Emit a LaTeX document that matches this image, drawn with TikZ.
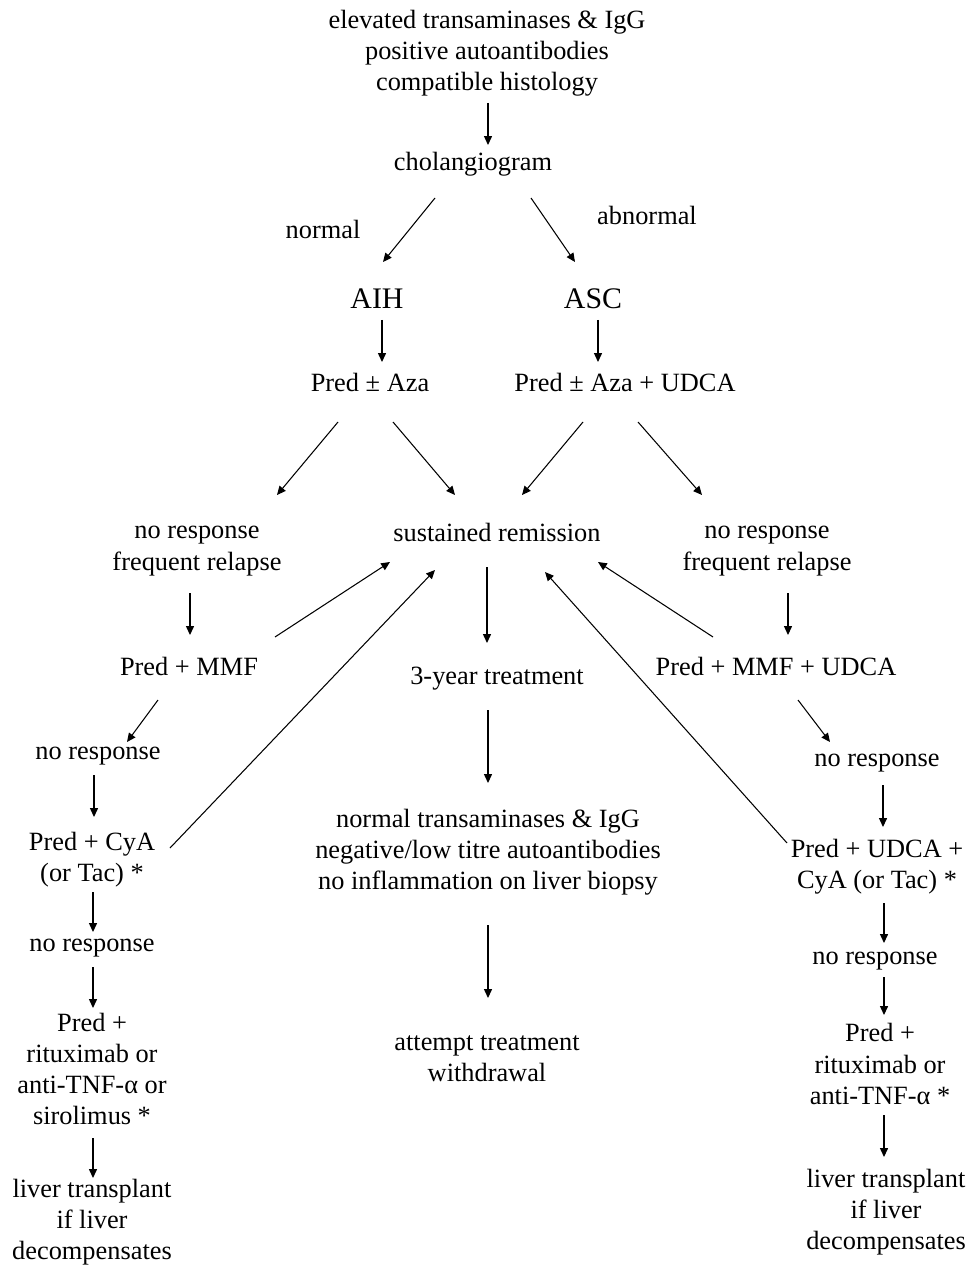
\documentclass[tikz,border=0pt]{standalone}
\usepackage{fontspec}
\setmainfont{Liberation Serif}
\usepackage{tikz}
\usetikzlibrary{arrows.meta, positioning, calc}

\tikzset{
  lbl/.style={font=\fontsize{15}{17.8}\selectfont, align=center, inner sep=1pt},
  dxlbl/.style={font=\fontsize{17}{20}\selectfont, align=center, inner sep=1pt},
  arr/.style={-{Triangle[length=5pt,width=4.5pt]}, line width=0.6pt}
}

\begin{document}
\begin{tikzpicture}[x=0.02cm, y=-0.02cm]
      \useasboundingbox (0,0) rectangle (969,1266);
      % Diagnosis
      \node[lbl] (top) at (487,53) {elevated transaminases \& IgG\\positive autoantibodies\\compatible histology};
      \node[lbl] (chol) at (473,164) {cholangiogram};
      \node[lbl] (normal) at (323,229) {normal};
      \node[lbl] (abnormal) at (647,215) {abnormal};
      \node[dxlbl] (aih) at (377,299) {AIH};
      \node[dxlbl] (asc) at (593,299) {ASC};
      \draw[arr] ($(top)+(1,50)$) -- ($(chol)+(15,-19)$);
      \draw[arr] ($(chol)+(-38,34)$) -- ($(aih)+(6,-37)$);
      \draw[arr] ($(chol)+(58,34)$) -- ($(asc)+(-18,-37)$);
      % First line treatment
      \node[lbl] (predaza) at (370,382) {Pred ± Aza};
      \node[lbl] (ascpred) at (625,382) {Pred ± Aza + UDCA};
      \draw[arr] ($(aih)+(5,21)$) -- ($(predaza)+(12,-20)$);
      \draw[arr] ($(asc)+(5,21)$) -- ($(ascpred)+(-27,-20)$);
      % Outcome
      \node[lbl] (leftnr) at (197,551) {no response\\frequent relapse};
      \node[lbl] (sr) at (497,532) {sustained remission};
      \node[lbl] (rightnr) at (767,551) {no response\\frequent relapse};
      \draw[arr] ($(predaza)+(-32,40)$) -- ($(leftnr)+(80,-56)$);
      \draw[arr] ($(predaza)+(23,40)$) -- ($(sr)+(-42,-37)$);
      \draw[arr] ($(ascpred)+(-42,40)$) -- ($(sr)+(25,-37)$);
      \draw[arr] ($(ascpred)+(13,40)$) -- ($(rightnr)+(-65,-56)$);
      % Second line treatment
      \node[lbl] (lmmf) at (189,666) {Pred + MMF};
      \node[lbl] (rmmf) at (776,666) {Pred + MMF + UDCA};
      \draw[arr] ($(leftnr)+(-7,42)$) -- ($(lmmf)+(1,-31)$);
      \draw[arr] ($(rightnr)+(21,42)$) -- ($(rmmf)+(12,-31)$);
      \draw[arr] ($(lmmf)+(86,-29)$) -- ($(sr)+(-107,30)$);
      \draw[arr] ($(rmmf)+(-63,-29)$) -- ($(sr)+(101,30)$);
      % Remission branch
      \node[lbl] (three) at (497,679) {3-year treatment};
      \node[lbl] (normalt) at (488,852) {normal transaminases \& IgG\\negative/low titre autoantibodies\\no inflammation on liver biopsy};
      \node[lbl] (attempt) at (487,1059) {attempt treatment\\withdrawal};
      \draw[arr] ($(sr)+(-10,35)$) -- ($(three)+(-10,-36)$);
      \draw[arr] ($(three)+(-9,31)$) -- ($(normalt)+(0,-69)$);
      \draw[arr] ($(normalt)+(0,73)$) -- ($(attempt)+(1,-61)$);
      % AIH rescue
      \node[lbl] (lnr1) at (98,756) {no response};
      \node[lbl] (lcya) at (92,860) {Pred + CyA\\(or Tac) *};
      \node[lbl] (lnr2) at (92,948) {no response};
      \node[lbl] (lritux) at (92,1069) {Pred +\\rituximab or\\anti-TNF-α or\\sirolimus *};
      \node[lbl] (lliver) at (92,1222) {liver transplant\\if liver\\decompensates};
      \draw[arr] ($(lmmf)+(-31,34)$) -- ($(lnr1)+(29,-14)$);
      \draw[arr] ($(lnr1)+(-4,19)$) -- ($(lcya)+(2,-43)$);
      \draw[arr] ($(lcya)+(78,-12)$) -- ($(sr)+(-62,38)$);
      \draw[arr] ($(lcya)+(1,32)$) -- ($(lnr2)+(1,-16)$);
      \draw[arr] ($(lnr2)+(1,19)$) -- ($(lritux)+(1,-61)$);
      \draw[arr] ($(lritux)+(1,69)$) -- ($(lliver)+(1,-44)$);
      % ASC rescue
      \node[lbl] (rnr1) at (877,763) {no response};
      \node[lbl] (rcya) at (877,867) {Pred + UDCA +\\CyA (or Tac) *};
      \node[lbl] (rnr2) at (875,961) {no response};
      \node[lbl] (rritux) at (880,1064) {Pred +\\rituximab or\\anti-TNF-α *};
      \node[lbl] (rliver) at (886,1212) {liver transplant\\if liver\\decompensates};
      \draw[arr] ($(rmmf)+(22,34)$) -- ($(rnr1)+(-47,-21)$);
      \draw[arr] ($(rnr1)+(6,22)$) -- ($(rcya)+(6,-40)$);
      \draw[arr] ($(rcya)+(-90,-24)$) -- ($(sr)+(48,40)$);
      \draw[arr] ($(rcya)+(7,36)$) -- ($(rnr2)+(9,-18)$);
      \draw[arr] ($(rnr2)+(9,16)$) -- ($(rritux)+(4,-49)$);
      \draw[arr] ($(rritux)+(4,51)$) -- ($(rliver)+(-2,-55)$);
    \end{tikzpicture}
\end{document}
